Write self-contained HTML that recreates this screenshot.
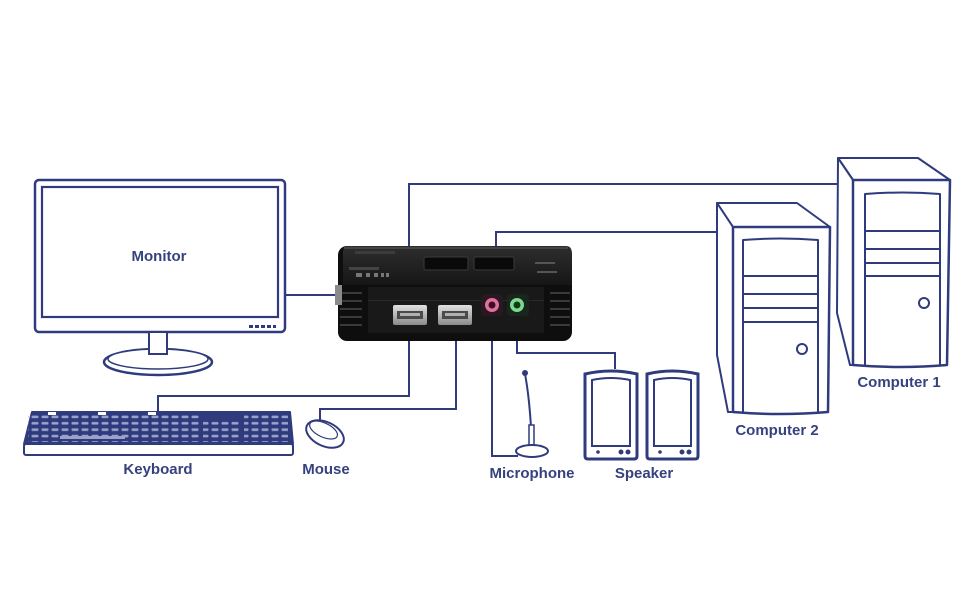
<!DOCTYPE html>
<html><head><meta charset="utf-8"><style>
html,body{margin:0;padding:0;background:#fff;}
svg{display:block;}
text{font-family:"Liberation Sans",Arial,sans-serif;font-weight:bold;font-size:15px;fill:#36427f;text-anchor:middle;}
</style></head><body>
<svg width="970" height="600" viewBox="0 0 970 600" xmlns="http://www.w3.org/2000/svg">
<defs>
<pattern id="keys" x="30" y="414" width="10" height="6.4" patternUnits="userSpaceOnUse">
<rect x="1.5" y="1.6" width="7" height="2.6" rx="1" fill="#9aa2cc"/>
</pattern>
<linearGradient id="top" x1="0" y1="0" x2="0" y2="1">
<stop offset="0" stop-color="#2e2e2e"/><stop offset="1" stop-color="#161616"/>
</linearGradient>
<linearGradient id="usb" x1="0" y1="0" x2="0" y2="1">
<stop offset="0" stop-color="#e2e2e2"/><stop offset="1" stop-color="#8a8a8a"/>
</linearGradient>
</defs>
<g fill="none" stroke="#2f3b7d" stroke-width="2">
<polyline points="409,246 409,184 838,184"/>
<polyline points="496,246 496,232 716,232"/>
<polyline points="285,295 337,295"/>
<polyline points="409,340 409,396 158,396 158,412"/>
<polyline points="456,340 456,409 320,409 320,422"/>
<polyline points="492,340 492,456 518,456"/>
<polyline points="517,340 517,353 615,353 615,369"/>
</g>

<!-- Monitor -->
<g fill="#fff" stroke="#2f3b7d">
<rect x="35" y="180" width="250" height="152" rx="4" stroke-width="2.5"/>
<rect x="42" y="187" width="236" height="130" stroke-width="2.2"/>
<ellipse cx="158" cy="362" rx="54" ry="13" stroke-width="2.5"/>
<ellipse cx="158" cy="359" rx="50" ry="10" stroke-width="1.5"/>
<rect x="149" y="332" width="18" height="22" stroke-width="2"/>
</g>
<g fill="#2f3b7d">
<rect x="249" y="325" width="4" height="3"/><rect x="255" y="325" width="4" height="3"/>
<rect x="261" y="325" width="4" height="3"/><rect x="267" y="325" width="4" height="3"/>
<rect x="273" y="325" width="3" height="3"/>
</g>
<text x="159" y="261">Monitor</text>

<!-- KVM device -->
<rect x="338" y="246" width="234" height="95" rx="9" fill="#0e0e0e"/>
<path d="M346,246 L566,246 Q572,246 572,254 L572,285 L343,285 L343,254 Q343,246 346,246Z" fill="url(#top)"/>
<rect x="344" y="247" width="224" height="2" fill="#444"/>
<rect x="368" y="287" width="176" height="46" fill="#191919"/>
<rect x="368" y="300" width="176" height="1" fill="#2a2a2a"/>
<g fill="#3a3a3a">
<rect x="340" y="292" width="22" height="2"/><rect x="340" y="300" width="22" height="2"/>
<rect x="340" y="308" width="22" height="2"/><rect x="340" y="316" width="22" height="2"/>
<rect x="340" y="324" width="22" height="2"/>
<rect x="550" y="292" width="20" height="2"/><rect x="550" y="300" width="20" height="2"/>
<rect x="550" y="308" width="20" height="2"/><rect x="550" y="316" width="20" height="2"/>
<rect x="550" y="324" width="20" height="2"/>
</g>
<rect x="335" y="285" width="7" height="20" fill="#8a8a8a"/>
<rect x="424" y="257" width="44" height="13" rx="2" fill="#0a0a0a" stroke="#3a3a3a"/>
<rect x="474" y="257" width="40" height="13" rx="2" fill="#0a0a0a" stroke="#3a3a3a"/>
<rect x="355" y="251" width="40" height="3" fill="#3c3c3c"/>
<rect x="535" y="262" width="20" height="2" fill="#555"/>
<rect x="537" y="271" width="20" height="2" fill="#555"/>
<rect x="349" y="267" width="30" height="3" fill="#444"/>
<g fill="#777"><rect x="356" y="273" width="6" height="4"/><rect x="366" y="273" width="4" height="4"/><rect x="374" y="273" width="4" height="4"/><rect x="381" y="273" width="3" height="4"/><rect x="386" y="273" width="3" height="4"/></g>
<rect x="393" y="305" width="34" height="20" rx="2" fill="url(#usb)"/>
<rect x="397" y="311" width="26" height="8" fill="#4a4a4a"/>
<rect x="400" y="313" width="20" height="3" fill="#b0b0b0"/>
<rect x="438" y="305" width="34" height="20" rx="2" fill="url(#usb)"/>
<rect x="442" y="311" width="26" height="8" fill="#4a4a4a"/>
<rect x="445" y="313" width="20" height="3" fill="#b0b0b0"/>
<rect x="481" y="294" width="22" height="22" rx="4" fill="#2a1820"/>
<rect x="507" y="294" width="22" height="22" rx="4" fill="#18261c"/>
<circle cx="492" cy="305" r="7" fill="#e070a0"/>
<circle cx="492" cy="305" r="3.5" fill="#3a1020"/>
<circle cx="517" cy="305" r="7" fill="#80d890"/>
<circle cx="517" cy="305" r="3.5" fill="#103a18"/>

<!-- Keyboard -->
<path d="M32,412 L290,412 L293,444 L24,444 Z" fill="#2f3b7d" stroke="#2f3b7d" stroke-width="2" stroke-linejoin="round"/>
<rect x="28" y="414" width="172" height="28" fill="url(#keys)"/>
<rect x="203" y="420" width="36" height="22" fill="url(#keys)"/>
<rect x="244" y="414" width="44" height="28" fill="url(#keys)"/>
<rect x="60" y="436" width="65" height="3" fill="#9aa2cc"/>
<rect x="48" y="412" width="8" height="3" fill="#fff"/>
<rect x="98" y="412" width="8" height="3" fill="#fff"/>
<rect x="148" y="412" width="8" height="3" fill="#fff"/>
<rect x="24" y="444" width="269" height="11" rx="2" fill="#fff" stroke="#2f3b7d" stroke-width="2"/>
<text x="158" y="474">Keyboard</text>

<!-- Mouse -->
<g transform="rotate(25 325 434)">
<ellipse cx="325" cy="434" rx="20" ry="12" fill="#fff" stroke="#2f3b7d" stroke-width="2"/>
<ellipse cx="322" cy="431" rx="15" ry="7" fill="none" stroke="#2f3b7d" stroke-width="1.2"/>
</g>
<text x="326" y="474">Mouse</text>

<!-- Microphone -->
<path d="M525,374 Q529,395 531,427" fill="none" stroke="#2f3b7d" stroke-width="2"/>
<circle cx="525" cy="373" r="3" fill="#2f3b7d"/>
<rect x="529" y="425" width="5" height="22" fill="#fff" stroke="#2f3b7d" stroke-width="1.5"/>
<ellipse cx="532" cy="451" rx="16" ry="6" fill="#fff" stroke="#2f3b7d" stroke-width="2"/>
<text x="532" y="478">Microphone</text>

<!-- Speakers -->
<g fill="#fff" stroke="#2f3b7d">
<path d="M585,374 Q611,368 637,374 L637,456 Q637,459 634,459 L588,459 Q585,459 585,456 Z" stroke-width="3"/>
<path d="M592,380 Q611,376 630,380 L630,446 L592,446 Z" stroke-width="2"/>
<path d="M647,374 Q672,368 698,374 L698,456 Q698,459 695,459 L650,459 Q647,459 647,456 Z" stroke-width="3"/>
<path d="M654,380 Q672,376 691,380 L691,446 L654,446 Z" stroke-width="2"/>
</g>
<g fill="#2f3b7d">
<circle cx="598" cy="452" r="1.8"/><circle cx="621" cy="452" r="2.5"/><circle cx="628" cy="452" r="2.5"/>
<circle cx="660" cy="452" r="1.8"/><circle cx="682" cy="452" r="2.5"/><circle cx="689" cy="452" r="2.5"/>
</g>
<text x="644" y="478">Speaker</text>

<!-- Computer 2 -->
<g fill="#fff" stroke="#2f3b7d" stroke-width="2" stroke-linejoin="round">
<polygon points="717,203 797,203 830,227 733,227"/>
<polygon points="717,203 733,227 733,412 728,412 717,355"/>
<path d="M733,227 L830,227 L828,412 Q780,416 733,412 Z" stroke-width="2.5"/>
<path d="M743,412 L743,240 Q780,237 818,240 L818,412" fill="none"/>
<line x1="743" y1="276" x2="818" y2="276"/>
<line x1="743" y1="294" x2="818" y2="294"/>
<line x1="743" y1="308" x2="818" y2="308"/>
<line x1="743" y1="322" x2="818" y2="322"/>
<circle cx="802" cy="349" r="5"/>
</g>
<text x="777" y="435">Computer 2</text>

<!-- Computer 1 -->
<g fill="#fff" stroke="#2f3b7d" stroke-width="2" stroke-linejoin="round">
<polygon points="838,158 918,158 950,180 853,180"/>
<polygon points="838,158 853,180 853,365 850,365 837,313"/>
<path d="M853,180 L950,180 L947,365 Q900,369 853,365 Z" stroke-width="2.5"/>
<path d="M865,365 L865,194 Q902,191 940,194 L940,365" fill="none"/>
<line x1="865" y1="231" x2="940" y2="231"/>
<line x1="865" y1="249" x2="940" y2="249"/>
<line x1="865" y1="263" x2="940" y2="263"/>
<line x1="865" y1="276" x2="940" y2="276"/>
<circle cx="924" cy="303" r="5"/>
</g>
<text x="899" y="387">Computer 1</text>
</svg>
</body></html>
